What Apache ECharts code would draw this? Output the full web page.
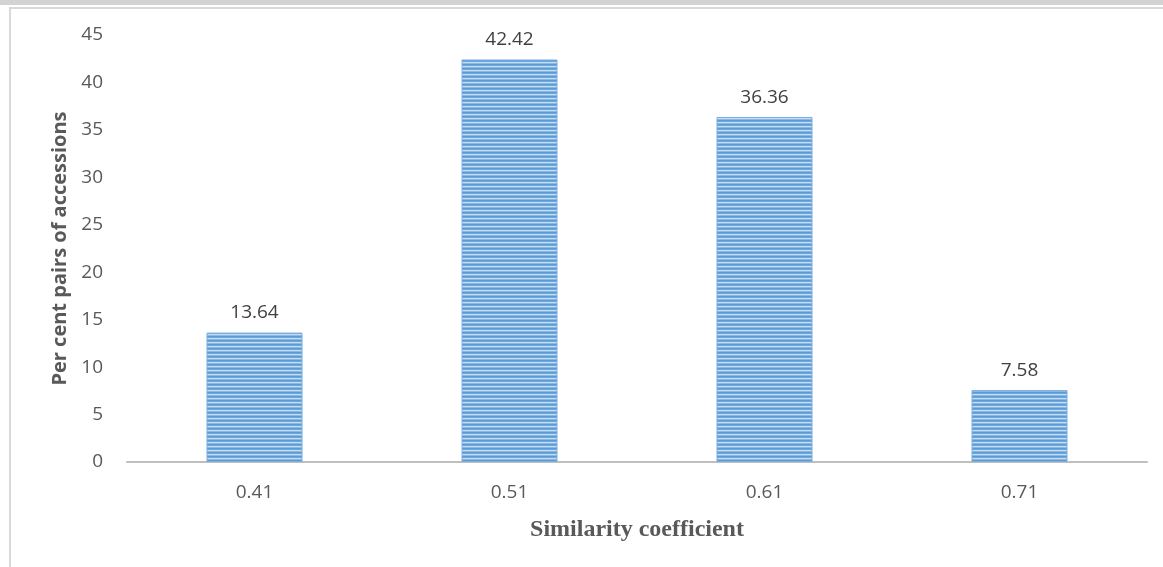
<!DOCTYPE html>
<html>
<head>
<meta charset="utf-8">
<script src="https://cdn.jsdelivr.net/npm/echarts@6/dist/echarts.min.js"></script>
<style>
html,body{margin:0;padding:0;background:#fff;}
#chart{width:1163px;height:567px;}
</style>
</head>
<body>
<div id="chart"></div>
<script>
const categories = ['0.41', '0.51', '0.61', '0.71'];
const values = [13.64, 42.42, 36.36, 7.58];
const yTicks = [0, 5, 10, 15, 20, 25, 30, 35, 40, 45];
const xTitle = 'Similarity coefficient';
const yTitle = 'Per cent pairs of accessions';

function stripePattern() {
  const c = document.createElement('canvas');
  c.width = 4; c.height = 4;
  const g = c.getContext('2d');
  const rows = ['#5b9bd5', '#6ea7dc', '#c5dcf2', '#8ab9e4'];
  rows.forEach((col, i) => { g.fillStyle = col; g.fillRect(0, i, 4, 1); });
  return c;
}

const chart = echarts.init(document.getElementById('chart'), null, {renderer: 'canvas'});
chart.setOption({
  animation: false,
  backgroundColor: '#ffffff',
  graphic: [
    {type: 'rect', shape: {x: 0, y: 0, width: 1163, height: 5}, style: {fill: '#d3d3d3'}, silent: true},
    {type: 'rect', shape: {x: 10, y: 7, width: 1153, height: 2}, style: {fill: '#d9d9d9'}, silent: true},
    {type: 'rect', shape: {x: 9, y: 7, width: 2, height: 560}, style: {fill: '#d9d9d9'}, silent: true}
  ],
  grid: {left: 127, right: 16, top: 35, bottom: 105, containLabel: false},
  xAxis: {
    type: 'category',
    data: categories,
    name: xTitle,
    nameLocation: 'middle',
    nameGap: 56,
    nameTextStyle: {fontFamily: 'Liberation Serif', fontWeight: 'bold', fontSize: 24, color: '#595959'},
    axisLine: {lineStyle: {color: '#bfbfbf', width: 2}},
    axisTick: {show: false},
    axisLabel: {fontFamily: 'Open Sans', fontSize: 19, color: '#595959', margin: 21}
  },
  yAxis: {
    type: 'value',
    min: yTicks[0],
    max: yTicks[yTicks.length - 1],
    interval: 5,
    name: yTitle,
    nameLocation: 'middle',
    nameGap: 54,
    nameRotate: 90,
    nameTextStyle: {fontFamily: 'Open Sans', fontWeight: 'bold', fontSize: 20, color: '#595959'},
    axisLine: {show: false},
    axisTick: {show: false},
    splitLine: {show: false},
    axisLabel: {fontFamily: 'Open Sans', fontSize: 19, color: '#595959', margin: 24}
  },
  series: [{
    type: 'bar',
    data: values,
    barWidth: 96,
    itemStyle: {
      color: {image: stripePattern(), repeat: 'repeat'},
      borderColor: '#7aaedf',
      borderWidth: 1
    },
    label: {
      show: true,
      position: 'top',
      distance: 10,
      fontFamily: 'Open Sans',
      fontSize: 19,
      color: '#404040',
      formatter: p => p.value.toFixed(2)
    }
  }]
});
</script>
</body>
</html>
